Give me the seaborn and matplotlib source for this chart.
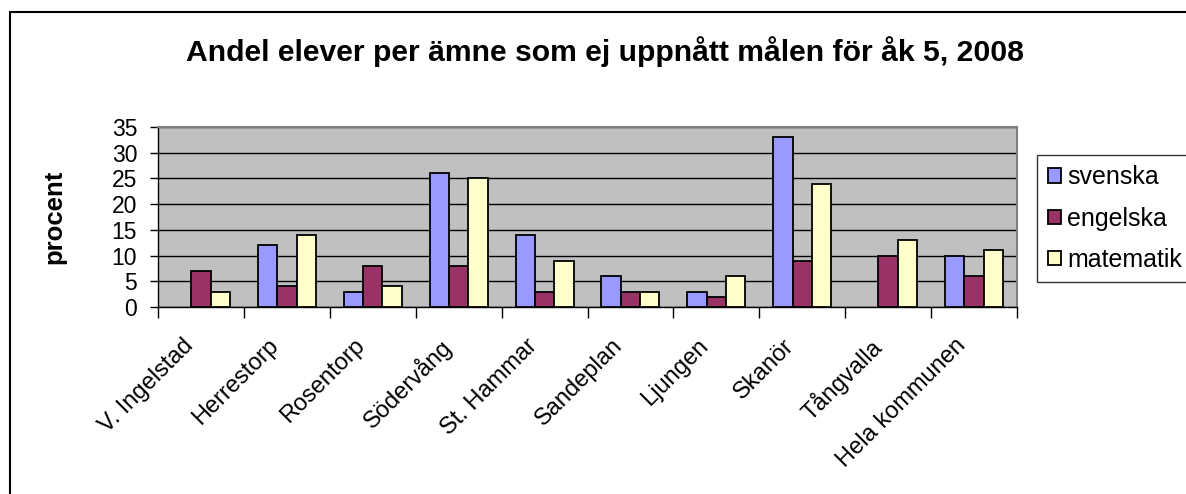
import numpy as np
import pandas as pd
import matplotlib
matplotlib.use("Agg")
import matplotlib.pyplot as plt
from matplotlib.lines import Line2D
from matplotlib.transforms import ScaledTranslation
import seaborn as sns

categories = ["V. Ingelstad", "Herrestorp", "Rosentorp", "Södervång", "St. Hammar",
              "Sandeplan", "Ljungen", "Skanör", "Tångvalla", "Hela kommunen"]
svenska = [0, 12, 3, 26, 14, 6, 3, 33, 0, 10]
engelska = [7, 4, 8, 8, 3, 3, 2, 9, 10, 6]
matematik = [3, 14, 4, 25, 9, 3, 6, 24, 13, 11]
series_names = ["svenska", "engelska", "matematik"]
colors = ["#9999FF", "#993366", "#FFFFCC"]
yticks = [0, 5, 10, 15, 20, 25, 30, 35]

df = pd.DataFrame({
    "skola": categories * 3,
    "ämne": [series_names[0]] * 10 + [series_names[1]] * 10 + [series_names[2]] * 10,
    "procent": svenska + engelska + matematik,
})

sns.set_theme(style="white")
plt.rcParams["font.family"] = ["Liberation Sans", "DejaVu Sans"]
plt.rcParams["text.color"] = "black"
plt.rcParams["axes.labelcolor"] = "black"
plt.rcParams["xtick.color"] = "black"
plt.rcParams["ytick.color"] = "black"

W, H = 1186, 494
fig = plt.figure(figsize=(W / 100, H / 100), dpi=100)
ax = fig.add_axes([158 / W, 1 - 307 / H, (1017 - 158) / W, (307 - 127) / H])
ax.set_facecolor("#C0C0C0")

sns.barplot(data=df, x="skola", y="procent", hue="ämne", order=categories,
            hue_order=series_names, palette=colors, width=0.675, gap=0,
            edgecolor="black", linewidth=1.3, saturation=1, ax=ax, legend=True,
            zorder=3)
for cont in ax.containers:
    for p in cont:
        if p.get_height() == 0:
            p.set_linewidth(0)

ax.set_ylim(0, 35)
ax.set_xlim(-0.5, len(categories) - 0.5)
ax.set_yticks(yticks)
ax.grid(axis="y", color="black", linewidth=1.0, zorder=0)
ax.set_axisbelow(True)
ax.tick_params(axis="y", labelsize=16.5, length=6, width=1, left=True, color="black",
               labelcolor="black", pad=9)
ax.set_xticks(range(len(categories)))
ax.set_xticklabels(categories, rotation=45, ha="right", rotation_mode="anchor", fontsize=17)
ax.tick_params(axis="x", which="major", length=0, pad=20, labelcolor="black")
ax.set_xticks(np.arange(-0.5, len(categories), 1), minor=True)
ax.tick_params(axis="x", which="minor", length=8, width=1, bottom=True, color="black")
offset = ScaledTranslation(-19 / 100, 0, fig.dpi_scale_trans)
for lbl in ax.get_xticklabels():
    lbl.set_transform(lbl.get_transform() + offset)
ax.set_xlabel("")
ax.set_ylabel("procent", fontsize=18.5, fontweight="bold", color="black")
ax.yaxis.set_label_coords((66 - 158) / (1017 - 158), 0.5)

for side in ["left", "bottom"]:
    ax.spines[side].set_color("black")
    ax.spines[side].set_linewidth(1.0)
for side in ["top", "right"]:
    ax.spines[side].set_color("#808080")
    ax.spines[side].set_linewidth(1.5)

handles, labels = ax.get_legend_handles_labels()
ax.get_legend().remove()
leg = fig.legend(handles, labels, loc="upper left", bbox_to_anchor=(1037 / W, 1 - 155 / H),
                 borderaxespad=0, fontsize=18, frameon=True, fancybox=False,
                 edgecolor="black", handlelength=0.52, handleheight=0.5,
                 handletextpad=0.28, labelspacing=0.69, borderpad=0.42)
leg.get_frame().set_linewidth(1.0)
for h in leg.legend_handles:
    h.set_edgecolor("black")
    h.set_linewidth(1.3)
for t in leg.get_texts():
    t.set_color("black")

fig.suptitle("Andel elever per ämne som ej uppnått målen för åk 5, 2008",
             x=605 / W, y=1 - 52 / H, va="center", fontsize=21.7, fontweight="bold",
             color="black")

fig.add_artist(Line2D([10 / W, 10 / W], [0, 1 - 12 / H], color="black", linewidth=1.5))
fig.add_artist(Line2D([10 / W, 1], [1 - 12 / H, 1 - 12 / H], color="black", linewidth=1.5))

fig.savefig("out.png", dpi=100)
